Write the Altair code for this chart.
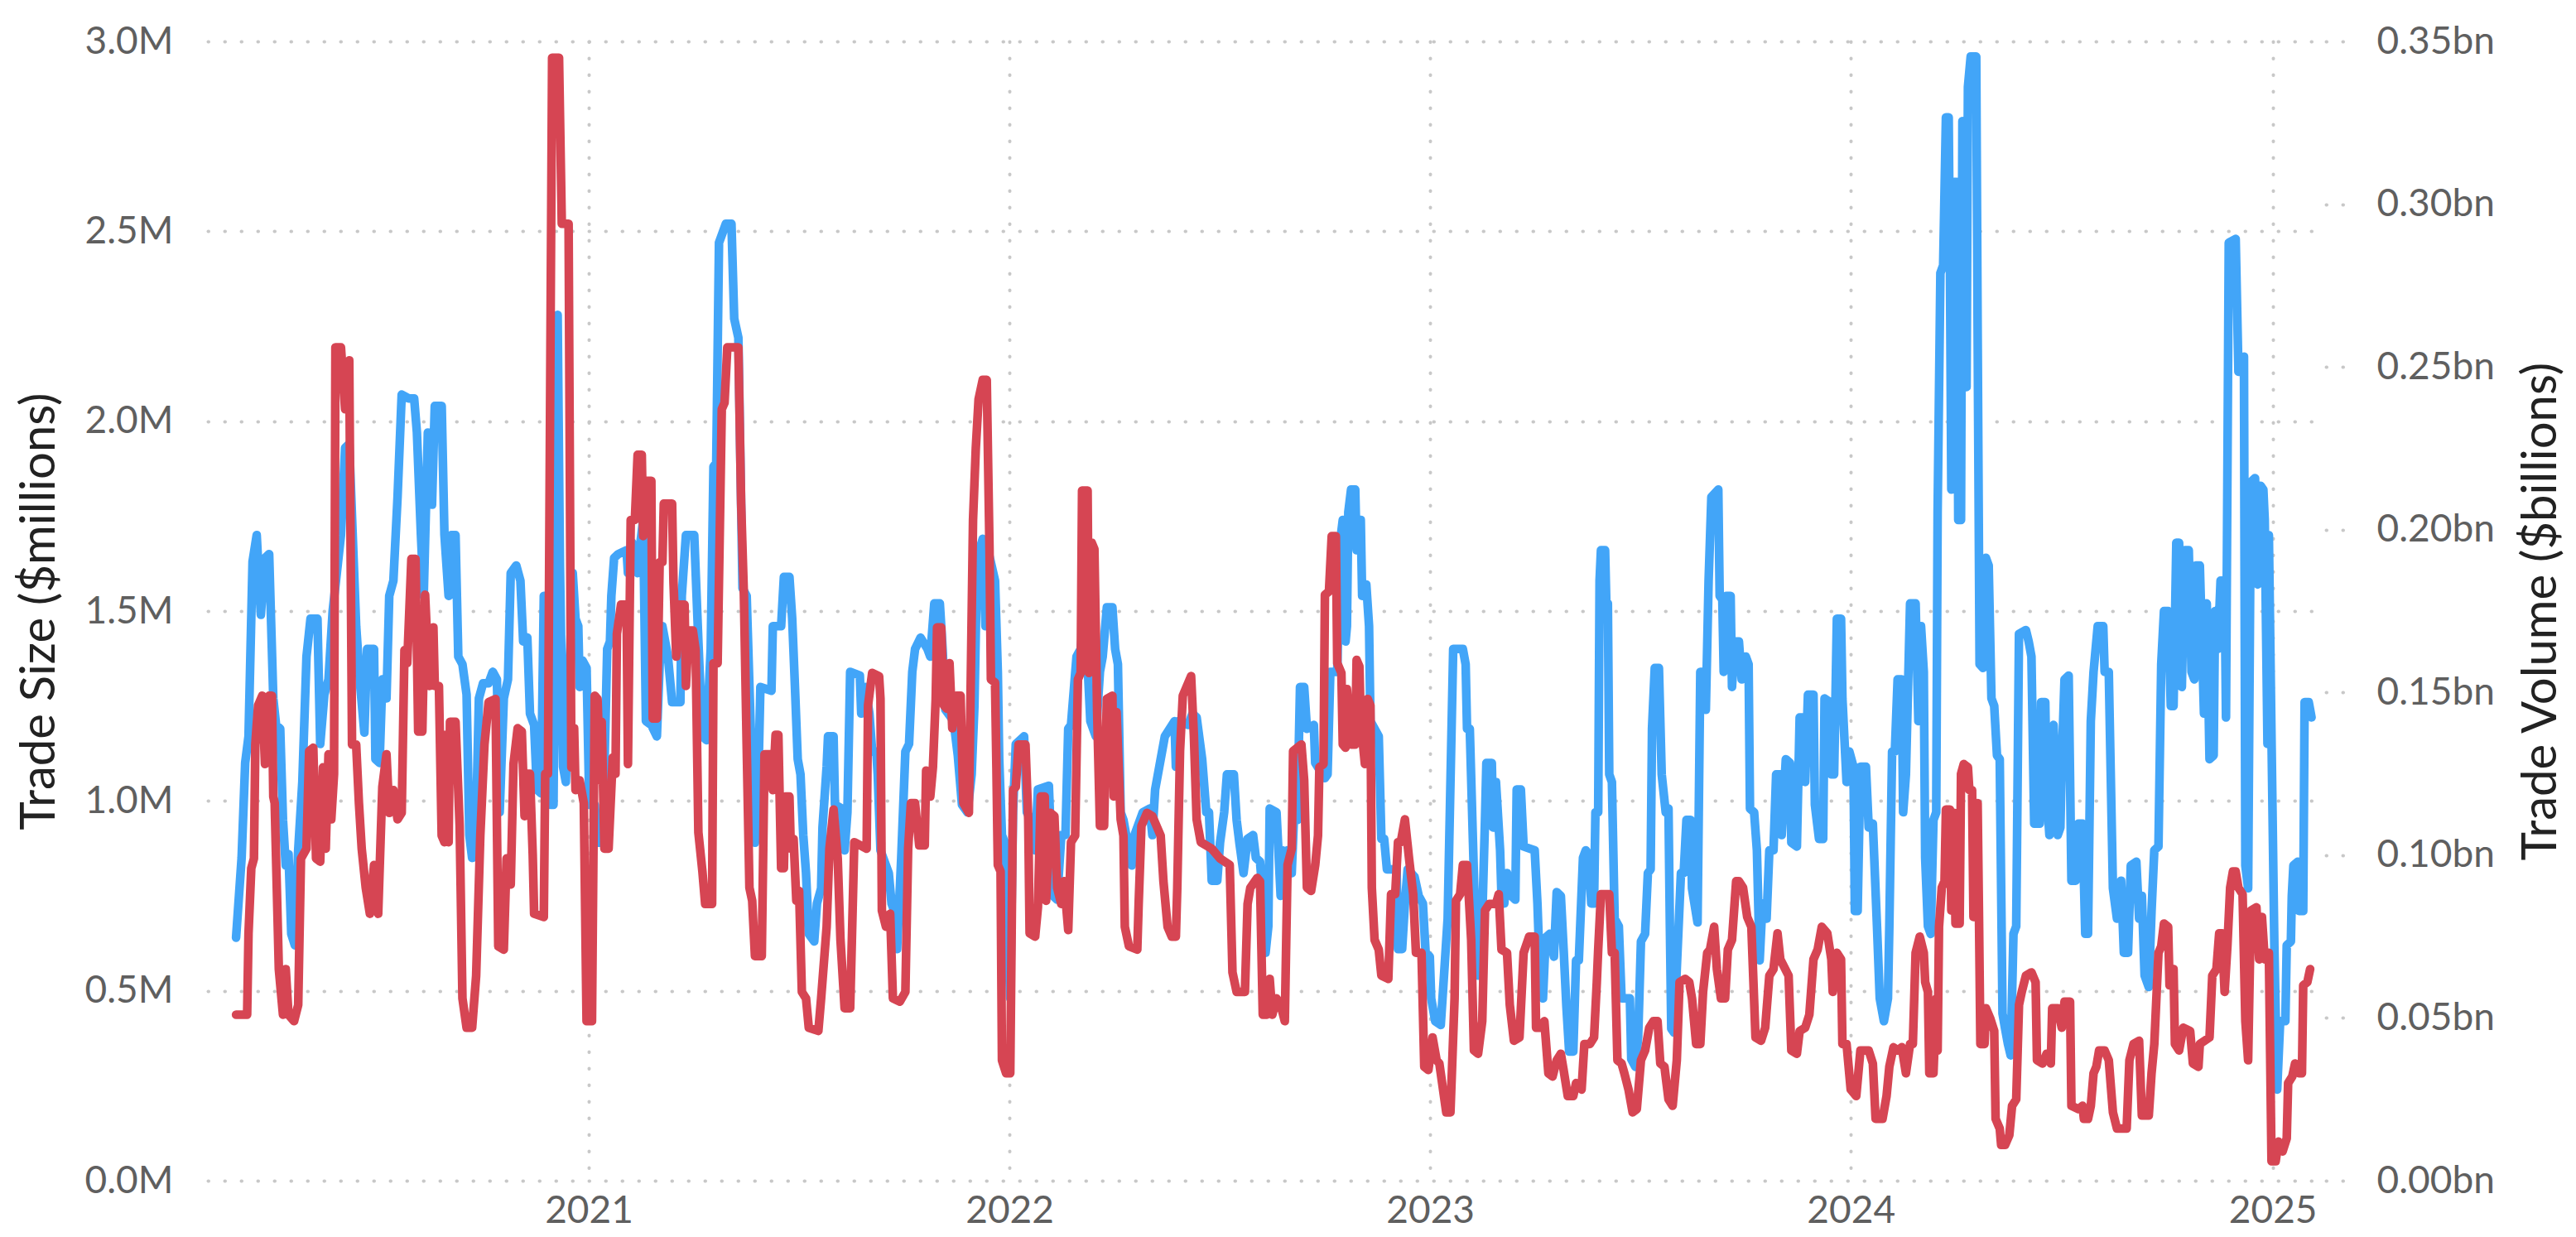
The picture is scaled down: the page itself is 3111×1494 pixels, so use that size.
import altair as alt
import pandas as pd

# ---- data (days counted from 2020-01-01) ----
blue_day = [
    60.0, 64.8, 67.9, 70.8, 74.3, 77.9, 81.5, 85.1, 88.7, 92.3,
    94.7, 98.3, 100.7, 103.1, 105.5, 107.9, 111.0, 113.9, 117.5, 121.1,
    124.6, 130.6, 133.0, 136.6, 140.2, 143.8, 151.0, 154.6, 158.2, 164.2,
    167.8, 171.3, 173.7, 179.7, 180.9, 184.5, 186.9, 190.5, 192.9, 196.5,
    200.1, 203.7, 209.7, 214.5, 216.9, 220.4, 222.8, 226.4, 230.0, 232.4,
    238.4, 240.8, 244.4, 246.8, 250.4, 252.8, 256.4, 260.0, 262.4, 264.8,
    268.3, 270.7, 274.3, 279.1, 282.7, 286.3, 288.7, 292.3, 295.9, 298.3,
    303.1, 306.7, 309.1, 312.7, 315.0, 318.6, 321.0, 324.6, 327.0, 330.6,
    333.0, 335.4, 339.0, 341.0, 343.7, 346.1, 352.1, 354.5, 356.9, 358.1,
    360.5, 364.1, 366.5, 371.2, 372.4, 378.4, 379.6, 382.0, 384.4, 385.6,
    388.0, 391.6, 398.8, 400.0, 403.6, 408.4, 410.8, 413.2, 415.6, 420.3,
    425.1, 427.5, 429.9, 434.7, 438.3, 445.5, 446.7, 450.3, 457.5, 461.1,
    464.6, 468.2, 471.8, 474.2, 476.6, 479.0, 481.4, 485.0, 489.8, 492.2,
    495.8, 499.4, 503.0, 505.4, 507.8, 510.2, 512.5, 514.9, 524.5, 525.7,
    532.9, 535.3, 540.1, 542.5, 544.9, 547.3, 549.7, 552.1, 554.5, 556.9,
    561.6, 564.0, 567.6, 568.8, 572.4, 573.6, 578.4, 579.6, 585.6, 588.0,
    590.4, 592.8, 601.2, 602.4, 606.0, 609.5, 611.9, 615.5, 616.7, 619.1,
    623.9, 626.3, 628.7, 631.1, 633.5, 637.1, 640.7, 643.9, 646.7, 649.1,
    653.9, 659.9, 662.3, 665.8, 670.6, 673.0, 675.4, 682.6, 686.2, 689.8,
    694.6, 698.2, 700.6, 703.0, 707.8, 710.2, 712.5, 718.5, 720.9, 722.1,
    724.5, 726.9, 729.3, 731.7, 734.1, 736.5, 743.7, 746.1, 749.7, 753.3,
    755.7, 765.2, 768.8, 772.4, 776.0, 779.6, 782.0, 784.4, 789.2, 792.8,
    796.4, 798.8, 801.2, 805.9, 809.5, 811.9, 815.5, 820.3, 822.7, 825.1,
    827.5, 829.9, 833.5, 837.1, 839.5, 846.7, 852.7, 855.0, 857.4, 863.4,
    865.8, 874.2, 875.4, 877.8, 886.2, 889.8, 893.4, 898.2, 901.8, 904.1,
    906.5, 911.3, 913.7, 917.3, 919.7, 925.7, 928.1, 930.5, 934.1, 937.6,
    942.4, 944.8, 948.4, 950.8, 953.2, 955.6, 956.8, 962.7, 966.3, 967.5,
    969.9, 972.3, 975.9, 978.3, 980.7, 983.1, 986.7, 989.1, 995.1, 996.3,
    1004.7, 1007.0, 1009.4, 1015.4, 1017.8, 1020.2, 1022.6, 1023.8, 1025.0, 1027.4,
    1031.0, 1032.2, 1035.8, 1037.0, 1040.6, 1043.0, 1044.2, 1051.4, 1053.7, 1056.1,
    1058.5, 1066.9, 1068.1, 1071.7, 1074.1, 1076.5, 1082.5, 1086.1, 1089.7, 1092.1,
    1095.7, 1096.9, 1100.4, 1105.2, 1107.6, 1111.2, 1116.0, 1124.4, 1126.8, 1128.0,
    1130.4, 1135.2, 1137.6, 1141.2, 1143.6, 1144.8, 1149.5, 1150.7, 1153.1, 1156.7,
    1157.9, 1160.3, 1162.7, 1166.3, 1169.9, 1171.1, 1174.7, 1177.1, 1186.7, 1189.1,
    1191.5, 1193.9, 1196.2, 1199.8, 1203.4, 1205.8, 1209.4, 1211.8, 1214.2, 1216.6,
    1220.2, 1222.6, 1225.0, 1228.6, 1231.0, 1233.4, 1235.8, 1238.2, 1239.4, 1241.8,
    1243.0, 1244.2, 1247.8, 1249.0, 1250.2, 1251.4, 1253.7, 1256.1, 1259.7, 1262.1,
    1269.3, 1270.5, 1274.1, 1276.5, 1278.9, 1282.5, 1284.9, 1287.3, 1288.5, 1290.9,
    1294.5, 1296.9, 1300.4, 1302.8, 1304.0, 1305.2, 1307.6, 1310.0, 1313.6, 1316.0,
    1318.4, 1322.0, 1323.2, 1328.0, 1330.4, 1332.8, 1335.2, 1337.6, 1340.0, 1346.0,
    1347.2, 1349.5, 1350.7, 1353.1, 1356.7, 1357.9, 1360.3, 1363.9, 1366.3, 1369.9,
    1372.3, 1373.5, 1377.1, 1379.5, 1381.9, 1384.3, 1387.9, 1390.3, 1393.9, 1396.2,
    1399.8, 1401.0, 1404.6, 1408.2, 1409.4, 1414.2, 1416.6, 1420.2, 1421.4, 1423.8,
    1428.6, 1429.8, 1433.4, 1437.0, 1438.2, 1443.0, 1444.1, 1446.5, 1448.9, 1452.5,
    1453.7, 1457.3, 1459.7, 1463.3, 1464.5, 1466.9, 1469.3, 1474.1, 1476.5, 1480.1,
    1483.7, 1486.1, 1489.7, 1493.2, 1494.4, 1496.8, 1499.2, 1501.6, 1505.2, 1506.4,
    1508.8, 1512.4, 1517.2, 1519.6, 1521.9, 1524.3, 1525.5, 1527.9, 1530.3, 1532.7,
    1535.1, 1536.3, 1538.7, 1541.1, 1543.5, 1545.9, 1547.0, 1548.2, 1550.6, 1553.0,
    1554.2, 1556.6, 1557.8, 1559.0, 1561.4, 1562.6, 1565.0, 1569.8, 1571.0, 1572.7,
    1575.8, 1578.2, 1580.6, 1583.0, 1585.4, 1587.8, 1590.2, 1592.6, 1594.9, 1597.3,
    1599.7, 1602.1, 1604.5, 1606.9, 1612.9, 1615.3, 1617.7, 1620.1, 1624.9, 1626.1,
    1629.7, 1630.9, 1633.3, 1636.9, 1640.5, 1642.8, 1644.0, 1646.4, 1650.0, 1652.4,
    1656.0, 1658.4, 1662.0, 1664.4, 1666.8, 1669.2, 1671.6, 1675.2, 1680.0, 1681.2,
    1684.8, 1688.4, 1691.9, 1695.5, 1697.9, 1701.5, 1703.9, 1708.7, 1711.1, 1713.5,
    1715.9, 1719.5, 1721.9, 1724.3, 1727.9, 1730.3, 1732.7, 1736.3, 1738.6, 1741.0,
    1743.4, 1745.8, 1748.2, 1750.6, 1754.2, 1756.6, 1759.0, 1760.2, 1763.8, 1767.4,
    1769.8, 1772.2, 1775.8, 1777.0, 1779.4, 1781.8, 1785.3, 1786.5, 1788.9, 1794.9,
    1797.3, 1802.1, 1803.3, 1805.7, 1808.1, 1811.7, 1814.1, 1816.5, 1818.9, 1820.1,
    1822.5, 1823.7, 1826.1, 1828.5, 1830.9, 1833.5, 1838.0, 1839.2, 1842.8, 1843.6,
    1845.0, 1848.8, 1849.9, 1853.5, 1854.7, 1858.3, 1860.7,
]
blue_size = [
    0.64, 0.85, 1.10, 1.17, 1.63, 1.70, 1.49, 1.64, 1.65, 1.27,
    1.20, 1.19, 0.95, 0.83, 0.86, 0.65, 0.62, 0.87, 1.05, 1.38,
    1.48, 1.48, 1.15, 1.28, 1.32, 1.50, 1.70, 1.93, 1.94, 1.46,
    1.30, 1.18, 1.40, 1.40, 1.11, 1.10, 1.32, 1.27, 1.54, 1.58,
    1.80, 2.07, 2.06, 2.06, 1.97, 1.70, 1.54, 1.97, 1.78, 2.04,
    2.04, 1.70, 1.54, 1.70, 1.70, 1.38, 1.36, 1.28, 0.91, 0.85,
    0.95, 1.27, 1.31, 1.31, 1.34, 1.32, 0.97, 1.27, 1.32, 1.60,
    1.62, 1.58, 1.42, 1.43, 1.23, 1.20, 1.03, 1.02, 1.54, 1.54,
    0.99, 0.99, 2.28, 1.62, 1.09, 1.05, 1.60, 1.48, 1.46, 1.30,
    1.37, 1.35, 0.99, 0.99, 0.89, 0.89, 1.09, 1.40, 1.42, 1.54,
    1.64, 1.65, 1.66, 1.60, 1.68, 1.60, 1.68, 1.74, 1.21, 1.20,
    1.17, 1.36, 1.46, 1.38, 1.26, 1.26, 1.54, 1.70, 1.70, 1.42,
    1.17, 1.16, 1.40, 1.88, 1.89, 2.47, 2.49, 2.52, 2.52, 2.27,
    2.22, 1.56, 1.54, 1.30, 1.07, 0.89, 0.97, 1.30, 1.29, 1.46,
    1.46, 1.59, 1.59, 1.48, 1.30, 1.11, 1.07, 0.91, 0.81, 0.65,
    0.63, 0.73, 0.77, 0.93, 1.09, 1.17, 1.17, 0.99, 0.98, 0.87,
    0.97, 1.34, 1.33, 1.23, 1.30, 1.23, 1.13, 1.13, 1.07, 0.87,
    0.83, 0.81, 0.73, 0.71, 0.61, 0.85, 1.13, 1.15, 1.34, 1.40,
    1.43, 1.40, 1.38, 1.52, 1.52, 1.40, 1.24, 1.21, 1.12, 0.99,
    0.97, 1.07, 1.25, 1.64, 1.69, 1.46, 1.66, 1.58, 1.34, 1.11,
    0.91, 0.89, 0.67, 0.48, 0.97, 1.15, 1.17, 0.97, 0.95, 0.87,
    1.03, 1.04, 0.75, 0.74, 0.91, 0.91, 1.19, 1.20, 1.38, 1.40,
    1.50, 1.36, 1.21, 1.17, 1.34, 1.38, 1.51, 1.51, 1.40, 1.36,
    0.97, 0.95, 0.89, 0.83, 0.91, 0.97, 0.98, 0.91, 1.03, 1.13,
    1.17, 1.21, 1.09, 1.21, 1.20, 1.23, 1.22, 1.11, 0.97, 0.97,
    0.79, 0.79, 0.89, 0.97, 1.07, 1.07, 0.95, 0.89, 0.81, 0.90,
    0.91, 0.85, 0.84, 0.75, 0.60, 0.67, 0.98, 0.97, 0.75, 0.87,
    0.77, 0.87, 0.81, 0.99, 0.95, 1.30, 1.30, 1.19, 1.20, 1.10,
    1.06, 1.07, 1.34, 1.34, 1.68, 1.74, 1.42, 1.46, 1.76, 1.82,
    1.82, 1.66, 1.74, 1.54, 1.57, 1.46, 1.21, 1.17, 0.90, 0.90,
    0.82, 0.82, 0.61, 0.61, 0.73, 0.82, 0.80, 0.75, 0.73, 0.60,
    0.59, 0.48, 0.42, 0.41, 0.52, 0.69, 1.40, 1.40, 1.36, 1.19,
    1.19, 0.67, 0.54, 0.69, 0.95, 1.10, 1.10, 0.93, 1.05, 0.87,
    0.75, 0.73, 0.81, 0.75, 0.74, 1.03, 1.03, 0.88, 0.87, 0.73,
    0.52, 0.48, 0.64, 0.65, 0.59, 0.76, 0.75, 0.61, 0.46, 0.34,
    0.34, 0.58, 0.58, 0.85, 0.87, 0.86, 0.73, 0.73, 0.97, 0.97,
    1.58, 1.66, 1.66, 1.50, 1.52, 1.07, 1.05, 0.69, 0.67, 0.48,
    0.48, 0.32, 0.30, 0.38, 0.63, 0.65, 0.81, 0.82, 1.19, 1.35,
    1.35, 1.07, 0.97, 0.98, 0.67, 0.40, 0.39, 0.56, 0.81, 0.81,
    0.95, 0.95, 0.77, 0.68, 1.34, 1.34, 1.24, 1.58, 1.80, 1.82,
    1.54, 1.53, 1.34, 1.54, 1.54, 1.30, 1.42, 1.42, 1.32, 1.38,
    1.36, 0.98, 0.97, 0.87, 0.58, 0.73, 0.69, 0.87, 0.87, 1.07,
    1.07, 0.91, 1.11, 1.10, 0.89, 0.88, 1.22, 1.22, 1.05, 1.28,
    1.28, 0.99, 0.90, 0.90, 1.27, 1.26, 1.07, 1.07, 1.48, 1.48,
    1.27, 1.05, 1.13, 1.09, 0.71, 0.71, 1.09, 1.09, 0.93, 0.94,
    0.67, 0.48, 0.42, 0.48, 0.67, 1.13, 1.13, 1.32, 1.32, 0.97,
    1.07, 1.52, 1.52, 1.21, 1.46, 1.34, 0.85, 0.67, 0.65, 0.95,
    0.97, 1.76, 2.39, 2.41, 2.80, 2.80, 2.41, 1.82, 2.63, 2.63,
    1.74, 1.74, 2.79, 2.09, 2.09, 2.88, 2.96, 2.96, 2.25, 1.36,
    1.35, 1.64, 1.62, 1.27, 1.25, 1.12, 1.11, 0.44, 0.40, 0.36,
    0.33, 0.65, 0.67, 1.44, 1.45, 1.42, 1.38, 0.94, 0.94, 1.26,
    1.26, 1.02, 0.91, 1.20, 0.91, 0.93, 1.10, 1.32, 1.33, 0.79,
    0.79, 0.94, 0.94, 0.65, 0.65, 1.21, 1.34, 1.46, 1.46, 1.34,
    1.34, 0.77, 0.69, 0.79, 0.60, 0.60, 0.83, 0.84, 0.69, 0.75,
    0.54, 0.51, 0.71, 0.87, 0.88, 1.36, 1.50, 1.50, 1.25, 1.25,
    1.68, 1.68, 1.30, 1.66, 1.66, 1.34, 1.32, 1.62, 1.62, 1.23,
    1.52, 1.11, 1.12, 1.50, 1.40, 1.58, 1.58, 1.22, 2.47, 2.48,
    2.13, 2.17, 0.83, 0.77, 1.84, 1.85, 1.57, 1.83, 1.82, 1.74,
    1.15, 1.70, 1.14, 0.61, 0.24, 0.42, 0.42, 0.62, 0.63, 0.75,
    0.83, 0.84, 0.71, 0.71, 1.26, 1.26, 1.22,
]

red_day = [
    60.0, 69.6, 70.8, 73.2, 75.5, 76.7, 79.1, 82.7, 85.1, 88.7,
    91.1, 92.3, 93.5, 97.1, 100.7, 103.1, 105.5, 110.3, 113.9, 116.3,
    121.1, 123.4, 127.0, 129.4, 133.0, 135.4, 137.8, 140.2, 142.6, 145.0,
    146.2, 151.0, 154.6, 158.2, 160.6, 164.2, 166.6, 169.0, 172.5, 176.1,
    179.7, 183.3, 186.9, 190.5, 192.9, 196.5, 200.1, 203.7, 206.1, 208.5,
    212.1, 215.7, 218.0, 221.6, 224.0, 227.6, 231.2, 232.4, 236.0, 238.4,
    240.8, 242.0, 244.4, 245.6, 250.4, 254.0, 256.4, 260.0, 264.8, 268.3,
    271.9, 275.5, 279.1, 285.1, 287.5, 292.3, 294.7, 298.3, 300.7, 304.3,
    307.9, 310.3, 312.7, 315.0, 317.4, 318.6, 327.0, 328.2, 330.6, 334.2,
    340.2, 342.6, 348.5, 350.9, 353.3, 354.5, 358.1, 361.7, 364.1, 368.8,
    371.2, 373.6, 376.0, 377.2, 379.6, 383.2, 386.8, 389.2, 390.4, 394.0,
    398.8, 400.0, 402.4, 406.0, 408.4, 412.0, 413.2, 415.6, 420.3, 421.5,
    425.1, 427.5, 429.9, 431.1, 438.3, 439.5, 441.9, 444.3, 449.1, 450.3,
    452.7, 456.3, 458.7, 461.1, 464.6, 467.0, 473.0, 474.2, 477.8, 481.4,
    483.8, 486.2, 495.8, 498.2, 500.6, 503.0, 505.4, 507.8, 510.2, 516.1,
    518.5, 523.3, 525.7, 528.1, 530.5, 532.9, 535.3, 536.5, 540.1, 541.3,
    543.7, 546.1, 548.5, 550.9, 554.5, 556.9, 565.2, 567.6, 572.4, 574.8,
    578.4, 582.0, 584.4, 588.0, 592.8, 596.4, 607.1, 608.3, 611.9, 617.9,
    619.1, 620.3, 623.9, 627.5, 629.9, 635.9, 640.7, 643.1, 645.5, 649.1,
    652.7, 657.5, 658.7, 662.3, 664.6, 667.0, 668.2, 671.8, 674.2, 676.6,
    679.0, 681.4, 685.0, 688.6, 691.0, 695.8, 699.4, 701.8, 704.2, 707.8,
    711.3, 713.7, 714.9, 718.5, 719.7, 720.9, 723.3, 724.5, 728.1, 731.7,
    734.1, 736.5, 738.9, 744.9, 747.3, 748.5, 753.3, 755.7, 758.1, 761.6,
    762.8, 766.4, 770.0, 772.4, 776.0, 778.4, 782.0, 784.4, 788.0, 790.4,
    792.8, 794.0, 798.8, 800.0, 802.4, 804.7, 807.1, 809.5, 813.1, 815.5,
    820.3, 821.5, 823.9, 827.5, 829.9, 831.1, 834.7, 841.9, 843.1, 845.5,
    850.3, 855.0, 862.2, 864.6, 868.2, 871.8, 875.4, 876.6, 879.0, 881.4,
    888.6, 891.0, 893.4, 897.0, 906.5, 913.7, 922.1, 924.5, 928.1, 935.3,
    937.6, 940.0, 946.0, 948.4, 950.8, 954.4, 956.8, 959.1, 962.7, 966.3,
    969.9, 972.3, 975.9, 977.1, 984.3, 986.7, 989.1, 992.7, 996.3, 998.7,
    999.9, 1003.5, 1004.7, 1008.2, 1010.6, 1014.2, 1015.4, 1019.0, 1020.2, 1022.6,
    1023.8, 1027.4, 1031.0, 1032.2, 1034.6, 1035.8, 1039.4, 1041.8, 1044.2, 1045.4,
    1047.8, 1051.4, 1053.7, 1059.7, 1062.1, 1065.7, 1068.1, 1070.5, 1074.1, 1077.7,
    1081.3, 1083.7, 1088.5, 1090.9, 1094.5, 1098.1, 1101.6, 1104.0, 1106.4, 1110.0,
    1113.6, 1117.2, 1118.4, 1122.0, 1124.4, 1128.0, 1131.6, 1134.0, 1137.6, 1141.2,
    1143.6, 1147.2, 1153.1, 1155.5, 1157.9, 1162.7, 1165.1, 1168.7, 1173.5, 1177.1,
    1181.9, 1186.7, 1187.9, 1191.5, 1195.1, 1198.6, 1202.2, 1205.8, 1209.4, 1211.8,
    1215.4, 1220.2, 1222.6, 1227.4, 1229.8, 1234.6, 1238.2, 1240.6, 1241.8, 1244.2,
    1251.4, 1253.7, 1256.1, 1258.5, 1262.1, 1264.5, 1268.1, 1271.7, 1275.3, 1278.9,
    1282.5, 1286.1, 1289.7, 1293.3, 1295.7, 1299.3, 1302.8, 1306.4, 1310.0, 1312.4,
    1317.2, 1320.8, 1323.2, 1326.8, 1330.4, 1332.8, 1336.4, 1338.8, 1342.4, 1344.8,
    1348.3, 1351.9, 1354.3, 1357.9, 1361.5, 1363.9, 1367.5, 1371.1, 1374.7, 1378.3,
    1383.1, 1386.7, 1390.3, 1393.9, 1397.4, 1399.8, 1407.0, 1409.4, 1414.2, 1416.6,
    1421.4, 1425.0, 1428.6, 1432.2, 1435.8, 1440.6, 1444.1, 1445.3, 1448.9, 1452.5,
    1453.7, 1457.3, 1460.9, 1465.7, 1469.3, 1476.5, 1480.1, 1482.5, 1488.5, 1492.0,
    1494.4, 1498.0, 1501.6, 1505.2, 1508.8, 1512.4, 1514.8, 1517.2, 1520.8, 1524.3,
    1525.5, 1527.9, 1529.1, 1532.7, 1535.1, 1536.3, 1537.5, 1539.9, 1542.3, 1543.5,
    1547.0, 1548.2, 1550.6, 1551.8, 1555.4, 1556.6, 1559.0, 1562.6, 1563.8, 1566.2,
    1567.4, 1571.0, 1572.2, 1573.4, 1577.0, 1578.2, 1581.8, 1585.4, 1586.6, 1590.2,
    1591.4, 1594.9, 1598.5, 1600.9, 1604.5, 1606.9, 1609.3, 1612.9, 1617.7, 1621.3,
    1622.5, 1627.3, 1630.9, 1634.5, 1635.7, 1640.5, 1644.0, 1646.4, 1651.2, 1652.4,
    1658.4, 1662.0, 1663.2, 1666.8, 1669.2, 1671.6, 1674.0, 1676.4, 1681.2, 1684.8,
    1688.4, 1691.9, 1700.3, 1702.7, 1706.3, 1711.1, 1713.5, 1719.5, 1721.9, 1724.3,
    1727.9, 1730.3, 1732.7, 1736.3, 1737.5, 1741.0, 1742.2, 1745.8, 1749.4, 1755.4,
    1757.8, 1762.6, 1763.8, 1772.2, 1774.6, 1778.2, 1780.6, 1783.0, 1785.3, 1787.7,
    1790.1, 1792.5, 1794.9, 1797.3, 1800.9, 1803.3, 1805.7, 1808.1, 1812.9, 1815.3,
    1817.7, 1820.1, 1823.7, 1826.0, 1829.6, 1832.0, 1835.6, 1839.2, 1840.4, 1844.0,
    1846.4, 1850.0, 1852.4, 1853.5, 1857.1, 1859.5,
]
red_volume = [
    0.051, 0.051, 0.076, 0.096, 0.099, 0.134, 0.146, 0.149, 0.128, 0.149,
    0.149, 0.118, 0.116, 0.065, 0.051, 0.065, 0.051, 0.049, 0.054, 0.099,
    0.102, 0.132, 0.133, 0.099, 0.098, 0.127, 0.102, 0.131, 0.111, 0.125,
    0.256, 0.256, 0.237, 0.252, 0.134, 0.134, 0.116, 0.102, 0.090, 0.082,
    0.097, 0.082, 0.121, 0.131, 0.113, 0.120, 0.111, 0.113, 0.163, 0.159,
    0.191, 0.191, 0.138, 0.138, 0.180, 0.152, 0.170, 0.152, 0.152, 0.106,
    0.104, 0.137, 0.104, 0.141, 0.141, 0.109, 0.056, 0.047, 0.047, 0.063,
    0.106, 0.134, 0.147, 0.148, 0.072, 0.071, 0.099, 0.091, 0.128, 0.139,
    0.138, 0.112, 0.125, 0.125, 0.100, 0.082, 0.081, 0.125, 0.125, 0.345,
    0.345, 0.294, 0.294, 0.127, 0.139, 0.120, 0.123, 0.116, 0.049, 0.049,
    0.149, 0.148, 0.123, 0.141, 0.102, 0.102, 0.130, 0.125, 0.168, 0.177,
    0.177, 0.128, 0.203, 0.203, 0.223, 0.223, 0.198, 0.215, 0.215, 0.142,
    0.142, 0.190, 0.190, 0.208, 0.208, 0.184, 0.161, 0.177, 0.177, 0.152,
    0.169, 0.169, 0.163, 0.107, 0.095, 0.085, 0.085, 0.159, 0.159, 0.237,
    0.239, 0.256, 0.256, 0.208, 0.180, 0.134, 0.090, 0.086, 0.069, 0.069,
    0.131, 0.131, 0.120, 0.137, 0.137, 0.096, 0.096, 0.118, 0.118, 0.102,
    0.105, 0.086, 0.089, 0.058, 0.056, 0.047, 0.046, 0.056, 0.078, 0.102,
    0.114, 0.099, 0.074, 0.053, 0.053, 0.104, 0.102, 0.146, 0.156, 0.155,
    0.148, 0.083, 0.078, 0.082, 0.056, 0.055, 0.058, 0.102, 0.116, 0.116,
    0.103, 0.103, 0.126, 0.118, 0.127, 0.148, 0.170, 0.170, 0.146, 0.145,
    0.159, 0.139, 0.149, 0.149, 0.116, 0.113, 0.203, 0.225, 0.240, 0.246,
    0.246, 0.194, 0.154, 0.153, 0.127, 0.097, 0.095, 0.037, 0.033, 0.033,
    0.120, 0.121, 0.134, 0.134, 0.111, 0.076, 0.075, 0.084, 0.118, 0.118,
    0.086, 0.113, 0.112, 0.090, 0.085, 0.092, 0.077, 0.104, 0.106, 0.154,
    0.156, 0.212, 0.212, 0.156, 0.196, 0.194, 0.144, 0.109, 0.109, 0.148,
    0.149, 0.118, 0.144, 0.111, 0.106, 0.078, 0.072, 0.071, 0.085, 0.109,
    0.113, 0.112, 0.106, 0.092, 0.078, 0.075, 0.075, 0.090, 0.132, 0.149,
    0.155, 0.137, 0.111, 0.104, 0.102, 0.099, 0.097, 0.064, 0.058, 0.058,
    0.085, 0.090, 0.093, 0.092, 0.051, 0.051, 0.062, 0.051, 0.056, 0.054,
    0.049, 0.097, 0.102, 0.132, 0.134, 0.123, 0.090, 0.089, 0.097, 0.106,
    0.127, 0.128, 0.180, 0.181, 0.198, 0.198, 0.159, 0.156, 0.134, 0.133,
    0.151, 0.134, 0.134, 0.160, 0.158, 0.141, 0.128, 0.148, 0.146, 0.090,
    0.074, 0.071, 0.063, 0.062, 0.088, 0.088, 0.104, 0.104, 0.111, 0.099,
    0.088, 0.070, 0.070, 0.035, 0.034, 0.044, 0.037, 0.036, 0.030, 0.021,
    0.021, 0.056, 0.086, 0.088, 0.097, 0.097, 0.074, 0.040, 0.039, 0.049,
    0.083, 0.085, 0.085, 0.088, 0.071, 0.070, 0.054, 0.043, 0.044, 0.070,
    0.075, 0.075, 0.047, 0.047, 0.049, 0.033, 0.032, 0.037, 0.039, 0.034,
    0.026, 0.026, 0.030, 0.028, 0.042, 0.042, 0.044, 0.061, 0.071, 0.088,
    0.088, 0.070, 0.070, 0.037, 0.036, 0.033, 0.028, 0.021, 0.022, 0.037,
    0.040, 0.047, 0.049, 0.049, 0.036, 0.035, 0.025, 0.023, 0.037, 0.061,
    0.062, 0.061, 0.056, 0.042, 0.042, 0.058, 0.070, 0.071, 0.078, 0.065,
    0.056, 0.056, 0.071, 0.074, 0.092, 0.092, 0.090, 0.081, 0.078, 0.044,
    0.043, 0.047, 0.063, 0.065, 0.076, 0.068, 0.063, 0.040, 0.039, 0.046,
    0.047, 0.051, 0.068, 0.071, 0.078, 0.076, 0.068, 0.058, 0.070, 0.068,
    0.042, 0.042, 0.028, 0.026, 0.040, 0.040, 0.036, 0.019, 0.019, 0.026,
    0.035, 0.041, 0.040, 0.041, 0.033, 0.042, 0.042, 0.070, 0.075, 0.070,
    0.061, 0.058, 0.033, 0.033, 0.056, 0.040, 0.078, 0.090, 0.092, 0.114,
    0.114, 0.083, 0.113, 0.079, 0.079, 0.125, 0.128, 0.127, 0.120, 0.120,
    0.081, 0.116, 0.081, 0.042, 0.042, 0.053, 0.050, 0.046, 0.019, 0.016,
    0.011, 0.011, 0.014, 0.023, 0.025, 0.054, 0.058, 0.063, 0.064, 0.061,
    0.037, 0.036, 0.039, 0.036, 0.053, 0.053, 0.047, 0.055, 0.055, 0.023,
    0.022, 0.023, 0.019, 0.019, 0.023, 0.033, 0.035, 0.040, 0.040, 0.037,
    0.021, 0.016, 0.016, 0.037, 0.042, 0.043, 0.020, 0.020, 0.033, 0.042,
    0.070, 0.072, 0.079, 0.078, 0.060, 0.065, 0.042, 0.040, 0.047, 0.046,
    0.036, 0.035, 0.042, 0.044, 0.063, 0.065, 0.076, 0.076, 0.058, 0.072,
    0.090, 0.095, 0.095, 0.090, 0.088, 0.049, 0.037, 0.083, 0.084, 0.068,
    0.081, 0.068, 0.070, 0.006, 0.006, 0.012, 0.009, 0.013, 0.030, 0.032,
    0.036, 0.033, 0.033, 0.060, 0.061, 0.065,
]

size_ticks = [0.0, 0.5, 1.0, 1.5, 2.0, 2.5, 3.0]
volume_ticks = [0.0, 0.05, 0.10, 0.15, 0.20, 0.25, 0.30, 0.35]
year_ticks = [2021, 2022, 2023, 2024, 2025]

assert len(blue_day) == len(blue_size)
assert len(red_day) == len(red_volume)

origin = pd.Timestamp("2020-01-01")
blue_df = pd.DataFrame({
    "date": origin + pd.to_timedelta(blue_day, unit="D"),
    "size": blue_size,
})
red_df = pd.DataFrame({
    "date": origin + pd.to_timedelta(red_day, unit="D"),
    "volume": red_volume,
})

FONT = "Lato"
LABEL_COLOR = "#5f5f5f"
TITLE_COLOR = "#222222"
GRID_COLOR = "#c8c8c8"
W, H = 2558, 1376
LINE_W = 10.5

x_enc = alt.X(
    "date:T",
    scale=alt.Scale(domain=[
        alt.DateTime(year=2020, month=2, date=5, hours=12),
        alt.DateTime(year=2025, month=2, date=16, hours=5),
    ]),
    axis=alt.Axis(
        values=[alt.DateTime(year=y, month=1, date=1) for y in year_ticks],
        format="%Y", title=None, grid=True, ticks=False, domain=False,
        labelPadding=14, labelFontSize=46, labelColor=LABEL_COLOR, labelFont=FONT,
        labelFlush=False,
        gridColor=GRID_COLOR, gridDash=[0.5, 19.5], gridWidth=4, gridCap="round",
    ),
)

blue_line = alt.Chart(blue_df).mark_line(
    color="#42A5F8", strokeWidth=LINE_W, strokeCap="round", strokeJoin="round"
).encode(
    x=x_enc,
    y=alt.Y(
        "size:Q",
        scale=alt.Scale(domain=[0, 3], nice=False),
        axis=alt.Axis(
            values=size_ticks,
            labelExpr="format(datum.value, '.1f') + 'M'",
            grid=True, ticks=False, domain=False,
            gridColor=GRID_COLOR, gridDash=[0.5, 19.5], gridWidth=4, gridCap="round",
            labelPadding=42, labelFontSize=46, labelColor=LABEL_COLOR, labelFont=FONT,
            title="Trade Size ($millions)", titleFont=FONT, titleFontSize=58,
            titleFontWeight="normal", titleColor=TITLE_COLOR,
            titleAngle=270, titleAlign="center", titleBaseline="middle",
            titleX=-203, titleY=H / 2,
        ),
    ),
)

red_line = alt.Chart(red_df).mark_line(
    color="#D64553", strokeWidth=LINE_W, strokeCap="round", strokeJoin="round"
).encode(
    x=x_enc,
    y=alt.Y(
        "volume:Q",
        scale=alt.Scale(domain=[0, 0.35], nice=False),
        axis=alt.Axis(
            orient="right",
            values=volume_ticks,
            labelExpr="format(datum.value, '.2f') + 'bn'",
            grid=False, domain=False,
            ticks=True, tickSize=21, tickColor=GRID_COLOR, tickWidth=4,
            tickDash=[0.5, 19.5], tickCap="round",
            labelPadding=40, labelFontSize=46, labelColor=LABEL_COLOR, labelFont=FONT,
            title="Trade Volume ($billions)", titleFont=FONT, titleFontSize=58,
            titleFontWeight="normal", titleColor=TITLE_COLOR,
            titleAngle=270, titleAlign="center", titleBaseline="middle",
            titleX=260, titleY=H / 2,
        ),
    ),
)

chart = alt.layer(blue_line, red_line).resolve_scale(y="independent").properties(
    width=W, height=H,
    autosize=alt.AutoSizeParams(type="none"),
    padding={"left": 243, "top": 42, "right": 290, "bottom": 60},
    background="white",
).configure_view(stroke=None)

chart.save("out.html", embed_options={"renderer": "svg", "actions": False})
